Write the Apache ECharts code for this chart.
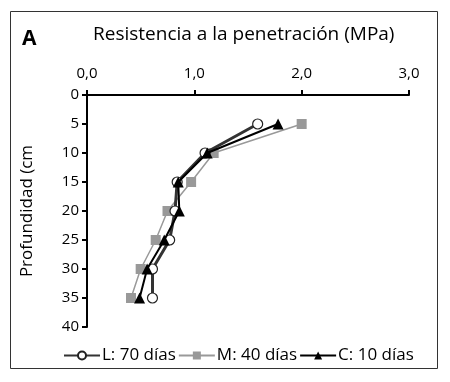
<!DOCTYPE html>
<html><head><meta charset="utf-8">
<script src="https://cdn.jsdelivr.net/npm/echarts@6/dist/echarts.min.js"></script>
<style>html,body{margin:0;padding:0;background:#fff}#c{width:450px;height:382px}</style>
</head><body><div id="c"></div>
<script>
const depths = [5, 10, 15, 20, 25, 30, 35];
const seriesNames = ['L: 70 días', 'M: 40 días', 'C: 10 días'];
const valuesL = [1.59, 1.10, 0.84, 0.82, 0.77, 0.61, 0.61];
const valuesM = [2.00, 1.18, 0.97, 0.75, 0.64, 0.50, 0.41];
const valuesC = [1.78, 1.12, 0.85, 0.86, 0.72, 0.56, 0.49];
const xTicks = ['0,0', '1,0', '2,0', '3,0'];
const yTicks = [0, 5, 10, 15, 20, 25, 30, 35, 40];

const FONT = 'Open Sans';
const chart = echarts.init(document.getElementById('c'));
const pairs = v => v.map((x, i) => [x, depths[i]]);
chart.setOption({
  animation: false,
  textStyle: { fontFamily: FONT },
  graphic: [
    { type: 'rect', shape: { x: 10.5, y: 11.5, width: 427, height: 357 }, style: { fill: 'none', stroke: '#333', lineWidth: 1 } },
    { type: 'text', left: 22, top: 29, style: { text: 'A', font: 'bold 21px ' + FONT, fill: '#000' } },
    { type: 'text', left: 93, top: 25, style: { text: 'Resistencia a la penetración (MPa)', font: '19px ' + FONT, fill: '#000' } }
  ],
  grid: { left: 87, right: 41, top: 95, bottom: 55 },
  xAxis: {
    type: 'value', position: 'top', min: 0, max: 3, interval: 1,
    axisLine: { show: true, lineStyle: { color: '#000', width: 2 } },
    axisTick: { show: true, inside: false, length: 5, lineStyle: { color: '#000', width: 2 } },
    splitLine: { show: false },
    axisLabel: { color: '#000', fontSize: 15, margin: 14, formatter: v => xTicks[Math.round(v)] }
  },
  yAxis: {
    type: 'value', inverse: true, min: 0, max: 40, interval: 5,
    name: 'Profundidad (cm', nameLocation: 'middle', nameGap: 51, nameRotate: 90,
    nameTextStyle: { color: '#000', fontSize: 17, fontFamily: FONT },
    axisLine: { show: true, lineStyle: { color: '#000', width: 2 } },
    axisTick: { show: true, length: 5, lineStyle: { color: '#000', width: 2 } },
    splitLine: { show: false },
    axisLabel: { color: '#000', fontSize: 15, margin: 8, formatter: v => yTicks.includes(v) ? String(v) : '' }
  },
  legend: {
    bottom: 13, left: 58, itemGap: 2, itemWidth: 36, itemHeight: 10,
    textStyle: { color: '#000', fontSize: 17, fontFamily: FONT, padding: [0, 0, 0, -3] },
    data: seriesNames
  },
  series: [
    { name: seriesNames[1], type: 'line', data: pairs(valuesM), symbol: 'rect', symbolSize: 10,
      lineStyle: { color: '#999', width: 1.5 }, itemStyle: { color: '#999', borderWidth: 0 }, z: 2 },
    { name: seriesNames[0], type: 'line', data: pairs(valuesL), symbol: 'circle', symbolSize: 10,
      lineStyle: { color: '#333', width: 3 }, itemStyle: { color: '#fff', borderColor: '#222', borderWidth: 1.2 }, z: 3 },
    { name: seriesNames[2], type: 'line', data: pairs(valuesC), symbol: 'triangle', symbolSize: 11,
      lineStyle: { color: '#000', width: 2 }, itemStyle: { color: '#000', borderWidth: 0 }, z: 4 }
  ]
});
</script></body></html>
